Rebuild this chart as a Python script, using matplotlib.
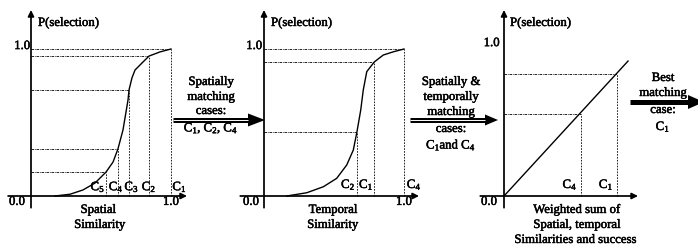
import matplotlib
matplotlib.use("Agg")
import matplotlib.pyplot as plt
import matplotlib.patheffects as pe

plt.rcParams['font.family'] = ['Liberation Serif', 'DejaVu Serif']
plt.rcParams['mathtext.fontset'] = 'custom'
plt.rcParams['mathtext.rm'] = 'Liberation Serif'
plt.rcParams['mathtext.it'] = 'Liberation Serif'
plt.rcParams['path.effects'] = [pe.withStroke(linewidth=0.35, foreground='k')]

# ---- data ----
# panel 1: spatial similarity -> P(selection)
sp_x = [0.171, 0.279, 0.371, 0.457, 0.536, 0.586, 0.621, 0.657, 0.693, 0.700,
        0.721, 0.743, 0.793, 0.843, 0.921, 1.0]
sp_y = [0.0, 0.012, 0.041, 0.088, 0.163, 0.231, 0.320, 0.449, 0.653, 0.721,
        0.803, 0.857, 0.905, 0.952, 0.980, 1.0]
sp_cases = ['5', '4', '3', '2', '1']
sp_cx = [0.536, 0.621, 0.700, 0.843, 1.0]
sp_cy = [0.163, 0.320, 0.721, 0.952, 1.0]

# panel 2: temporal similarity -> P(selection)
tm_x = [0.162, 0.305, 0.424, 0.519, 0.591, 0.638, 0.664, 0.691, 0.709, 0.734,
        0.788, 0.852, 0.924, 1.0]
tm_y = [0.0, 0.022, 0.063, 0.120, 0.211, 0.313, 0.437, 0.585, 0.721, 0.846,
        0.912, 0.959, 0.981, 1.0]
tm_cases = ['2', '1', '4']
tm_cx = [0.664, 0.788, 1.0]
tm_cy = [0.437, 0.912, 1.0]

# panel 3: weighted sum -> P(selection)
ws_x = [0.0, 0.886]
ws_y = [0.0, 0.918]
ws_cases = ['4', '1']
ws_cx = [0.55, 0.807]
ws_cy = [0.56, 0.83]

W, H = 698, 248
fig = plt.figure(figsize=(W / 100, H / 100), dpi=100)
FS = 9.2


def panel(ox, oy, sx=140, sy=147):
    ax = fig.add_axes([0, 0, 1, 1])
    ax.set_xlim(-ox / sx, (W - ox) / sx)
    ax.set_ylim(-(H - oy) / sy, oy / sy)
    ax.axis('off')
    ax.patch.set_alpha(0)
    return ax


def axes_arrows(ax, xmin, xmax):
    ax.annotate('', xy=(xmax, 0), xytext=(xmin, 0),
                arrowprops=dict(arrowstyle='-|>', mutation_scale=9, lw=1.2,
                                color='k', shrinkA=0, shrinkB=0))
    ax.annotate('', xy=(0, 1.265), xytext=(0, -0.08),
                arrowprops=dict(arrowstyle='-|>', mutation_scale=9, lw=1.2,
                                color='k', shrinkA=0, shrinkB=0))


def guides(ax, cx, cy):
    for x, y in zip(cx, cy):
        ax.plot([0, x], [y, y], color='k', lw=0.6, ls=(0, (3, 1, 1, 1)),
                path_effects=[])
        ax.plot([x, x], [0, y], color='k', lw=0.6, ls=(0, (2, 1.5)),
                path_effects=[])


# ---- panel 1 ----
a1 = panel(31, 196)
axes_arrows(a1, -0.164, 1.114)
guides(a1, sp_cx, sp_cy)
a1.plot(sp_x, sp_y, color='k', lw=1.0, path_effects=[])
aligns = ['right', 'center', 'center', 'center', 'left']
offs = [-0.005, -0.012, 0.02, 0.0, 0.01]
for c, x, ha, o in zip(sp_cases, sp_cx, aligns, offs):
    a1.text(x + o, 0.06, 'C$_{%s}$' % c, ha=ha, va='center', fontsize=FS)
a1.text(-0.1, -0.04, '0.0', ha='center', va='center', fontsize=FS)
a1.text(1.0, -0.04, '1.0', ha='center', va='center', fontsize=FS)
a1.text(-0.005, 1.02, '1.0', ha='right', va='center', fontsize=FS)
a1.text(0.05, 1.177, 'P(selection)', ha='left', va='center', fontsize=FS)
a1.text(0.48, -0.095, 'Spatial', ha='center', va='center', fontsize=FS)
a1.text(0.49, -0.197, 'Similarity', ha='center', va='center', fontsize=FS)

# ---- panel 2 ----
a2 = panel(264, 196)
axes_arrows(a2, -0.17, 1.107)
guides(a2, tm_cx, tm_cy)
a2.plot(tm_x, tm_y, color='k', lw=1.0, path_effects=[])
aligns = ['right', 'right', 'left']
offs = [-0.01, -0.005, 0.02]
for c, x, ha, o in zip(tm_cases, tm_cx, aligns, offs):
    a2.text(x + o, 0.075, 'C$_{%s}$' % c, ha=ha, va='center', fontsize=FS)
a2.text(-0.093, -0.04, '0.0', ha='center', va='center', fontsize=FS)
a2.text(1.0, -0.04, '1.0', ha='center', va='center', fontsize=FS)
a2.text(-0.012, 1.02, '1.0', ha='right', va='center', fontsize=FS)
a2.text(0.05, 1.177, 'P(selection)', ha='left', va='center', fontsize=FS)
a2.text(0.493, -0.095, 'Temporal', ha='center', va='center', fontsize=FS)
a2.text(0.49, -0.197, 'Similarity', ha='center', va='center', fontsize=FS)

# ---- panel 3 ----
a3 = panel(504, 196)
axes_arrows(a3, -0.17, 0.957)
guides(a3, ws_cx, ws_cy)
a3.plot(ws_x, ws_y, color='k', lw=1.0, path_effects=[])
for c, x in zip(ws_cases, ws_cx):
    a3.text(x - 0.025, 0.075, 'C$_{%s}$' % c, ha='right', va='center', fontsize=FS)
a3.text(-0.107, -0.04, '0.0', ha='center', va='center', fontsize=FS)
a3.text(-0.03, 1.04, '1.0', ha='right', va='center', fontsize=FS)
a3.text(0.043, 1.177, 'P(selection)', ha='left', va='center', fontsize=FS)
a3.text(0.52, -0.095, 'Weighted sum of', ha='center', va='center', fontsize=FS)
a3.text(0.52, -0.197, 'Spatial, temporal', ha='center', va='center', fontsize=FS)
a3.text(0.51, -0.299, 'Similarities and success', ha='center', va='center', fontsize=FS)

# ---- flow arrows between panels (pixel coords) ----
ov = fig.add_axes([0, 0, 1, 1])
ov.set_xlim(0, W)
ov.set_ylim(H, 0)
ov.axis('off')
ov.patch.set_alpha(0)


def flow(x0, x1, tip, y, half, double=True):
    ov.plot([x0, x1], [y, y], color='k', lw=3.6, solid_capstyle='butt',
            path_effects=[])
    if double:
        ov.plot([x0, x1], [y, y], color='white', lw=0.7, solid_capstyle='butt',
                path_effects=[])
    ov.fill([x1, tip, x1], [y - half, y, y + half], color='k', lw=0,
            path_effects=[])


flow(173, 248, 265, 120, 6.5)
flow(410, 485, 498, 120, 5.5)
flow(630, 688, 704, 102, 7, double=False)

for txt, yy in zip(['Spatially', 'matching', 'cases:', 'C$_1$, C$_2$, C$_4$'],
                   [82, 97, 111, 129]):
    ov.text(211, yy, txt, ha='center', va='center', fontsize=FS)
for txt, yy in zip(['Spatially &', 'temporally', 'matching', 'cases:', 'C$_1$and C$_4$'],
                   [82, 97, 112, 129, 145]):
    ov.text(451, yy, txt, ha='center', va='center', fontsize=FS)
for txt, yy in zip(['Best', 'matching', 'case:', 'C$_1$'], [78, 93, 110, 127]):
    ov.text(663, yy, txt, ha='center', va='center', fontsize=FS)

fig.savefig('out.png', dpi=100)
